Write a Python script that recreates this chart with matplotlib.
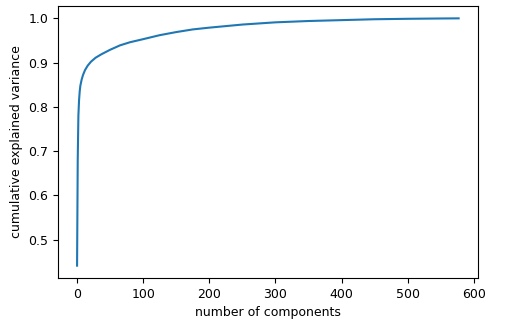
import numpy as np
import matplotlib
matplotlib.use('Agg')
import matplotlib.pyplot as plt

# points
n_components = [0, 1, 2, 3, 4, 5, 7, 9, 12, 16, 21, 28, 37, 50, 65, 80, 100,
                125, 150, 175, 200, 250, 300, 350, 400, 450, 500, 550, 577]
cum_var = [0.441, 0.68, 0.78, 0.815, 0.835, 0.848, 0.862, 0.872, 0.883, 0.893,
           0.902, 0.911, 0.919, 0.929, 0.939, 0.946, 0.953, 0.962, 0.969,
           0.975, 0.979, 0.986, 0.991, 0.994, 0.996, 0.998, 0.999, 0.9997, 1.0]

plt.rcParams['font.size'] = 9

fig = plt.figure(figsize=(5.06, 3.22), dpi=100)
ax = fig.add_axes([0.1146, 0.1366, 0.8295, 0.8448])
ax.plot(n_components, cum_var, color='#1f77b4', linewidth=1.5)

ax.set_xlabel('number of components')
ax.set_ylabel('cumulative explained variance')

fig.savefig('out.png', dpi=100)
